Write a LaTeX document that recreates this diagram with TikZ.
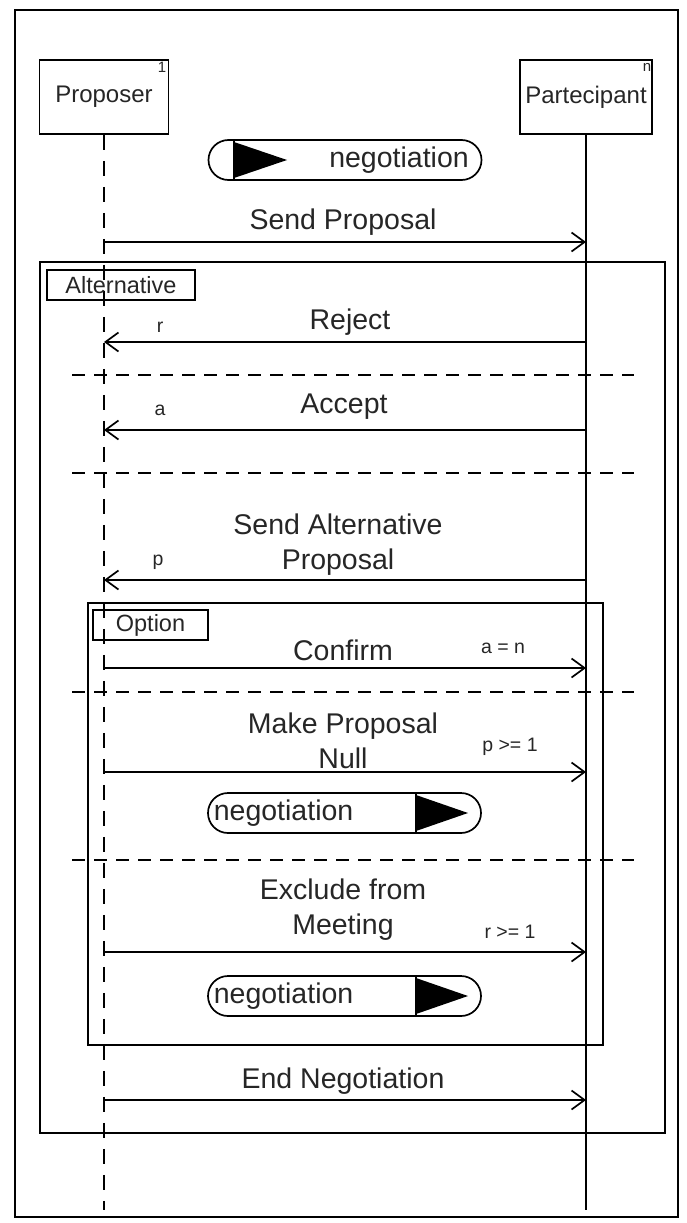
\documentclass[tikz,border=0pt]{standalone}
\usepackage{fontspec}
\setmainfont{Liberation Sans}
\usetikzlibrary{arrows.meta}
\begin{document}
\begin{tikzpicture}[x=1pt,y=-1pt,line width=1.7pt,
  msg/.style={-{Straight Barb[length=13pt,width=19pt,line width=1.7pt]}},
  lbl/.style={font=\fontsize{28.5}{35}\selectfont,inner sep=0pt,align=center,text=black!85},
  guard/.style={font=\fontsize{19.5}{22}\selectfont,inner sep=0pt,text=black!85},
  actor/.style={draw,font=\fontsize{24}{27}\selectfont,inner sep=0pt,text=black!85},
  tag/.style={draw,font=\fontsize{23.5}{26}\selectfont,inner sep=0pt,text=black!85},
  life/.style={dash pattern=on 15pt off 11pt},
  sep/.style={dash pattern=on 13pt off 9pt},
  pill/.style={draw,rounded corners=20pt,minimum width=273pt,minimum height=40pt,inner sep=0pt},
  ptext/.style={font=\fontsize{28.5}{31}\selectfont,inner sep=0pt,text=black!85}]
\useasboundingbox (0,0) rectangle (686,1223);
\draw[line width=1.3pt] (15,10) rectangle (678,1217);

% actors
\node[actor,minimum width=129pt,minimum height=74pt] (prop) at (104,97) {Proposer};
\node[actor,minimum width=132pt,minimum height=74pt] (part) at (586,97) {Partecipant};
\node[guard,font=\fontsize{15}{17}\selectfont] (m1) at (162,67) {1};
\node[guard,font=\fontsize{15}{17}\selectfont] (mn) at (647,67) {n};
\coordinate (propEnd) at (104,1210);
\coordinate (partEnd) at (586,1210);
\draw[life] (prop.south) -- (propEnd);
\draw (part.south) -- (partEnd);

% top pill
\node[pill] (neg1) at (345,160) {};
\draw (234,140) -- (234,180);
\fill (234,142) -- (287,160) -- (234,178) -- cycle;
\node[ptext] (neg1t) at (399,160) {negotiation};

% Send Proposal
\coordinate (p1) at (104,242); \coordinate (q1) at (586,242);
\draw[msg] (p1) -- (q1);
\node[lbl] (l1) at (343,222) {Send Proposal};

% Alternative frame
\draw (40,262) rectangle (665,1133);
\node[tag,minimum width=148pt,minimum height=30pt] (alt) at (121,285) {Alternative};

% Reject
\coordinate (p2) at (104,342); \coordinate (q2) at (586,342);
\draw[msg] (q2) -- (p2);
\node[lbl] (l2) at (350,322) {Reject};
\node[guard] (g2) at (160,327) {r};
\coordinate (s1a) at (72,375); \coordinate (s1b) at (634,375);
\draw[sep] (s1a) -- (s1b);

% Accept
\coordinate (p3) at (104,430); \coordinate (q3) at (586,430);
\draw[msg] (q3) -- (p3);
\node[lbl] (l3) at (344,407) {Accept};
\node[guard] (g3) at (160,410) {a};
\coordinate (s2a) at (72,473); \coordinate (s2b) at (634,473);
\draw[sep] (s2a) -- (s2b);

% Send Alternative Proposal
\coordinate (p4) at (104,580); \coordinate (q4) at (586,580);
\draw[msg] (q4) -- (p4);
\node[lbl] (l4) at (338,545) {Send Alternative\\Proposal};
\node[guard] (g4) at (158,562) {p};

% Option frame
\draw (88,603) rectangle (603,1045);
\node[tag,minimum width=115pt,minimum height=30pt] (opt) at (150.5,625) {Option};

% Confirm
\coordinate (p5) at (104,668); \coordinate (q5) at (586,668);
\draw[msg] (p5) -- (q5);
\node[lbl] (l5) at (343,650) {Confirm};
\node[guard] (g5) at (503,648) {a = n};
\coordinate (s3a) at (72,692); \coordinate (s3b) at (634,692);
\draw[sep] (s3a) -- (s3b);

% Make Proposal Null
\coordinate (p6) at (104,772); \coordinate (q6) at (586,772);
\draw[msg] (p6) -- (q6);
\node[lbl] (l6) at (343,741) {Make Proposal\\Null};
\node[guard] (g6) at (510,747) {p >= 1};

% second pill
\node[pill] (neg2) at (344.5,813) {};
\draw (416,793) -- (416,833);
\fill (416,795) -- (468,813) -- (416,831) -- cycle;
\node[ptext,anchor=west] (neg2t) at (213,813) {negotiation};
\coordinate (s4a) at (72,860); \coordinate (s4b) at (634,860);
\draw[sep] (s4a) -- (s4b);

% Exclude from Meeting
\coordinate (p7) at (104,952); \coordinate (q7) at (586,952);
\draw[msg] (p7) -- (q7);
\node[lbl] (l7) at (343,910) {Exclude from\\Meeting};
\node[guard] (g7) at (510,932) {r >= 1};

% third pill
\node[pill] (neg3) at (344.5,996) {};
\draw (416,976) -- (416,1016);
\fill (416,978) -- (468,996) -- (416,1014) -- cycle;
\node[ptext,anchor=west] (neg3t) at (213,996) {negotiation};

% End Negotiation
\coordinate (p8) at (104,1100); \coordinate (q8) at (586,1100);
\draw[msg] (p8) -- (q8);
\node[lbl] (l8) at (343,1081) {End Negotiation};
\end{tikzpicture}
\end{document}
